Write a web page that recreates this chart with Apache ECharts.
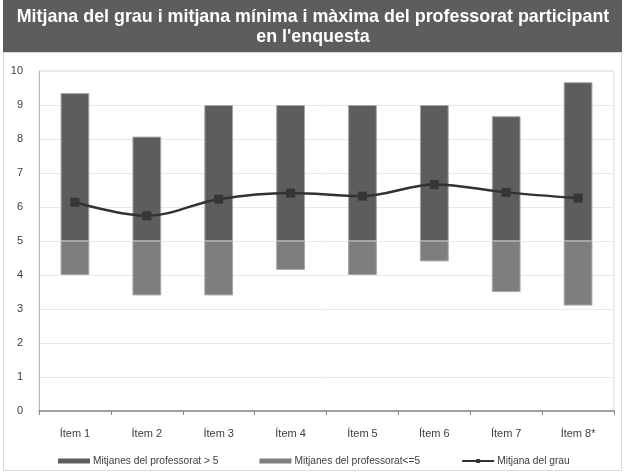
<!DOCTYPE html>
<html>
<head>
<meta charset="utf-8">
<script src="https://cdn.jsdelivr.net/npm/echarts@6/dist/echarts.min.js"></script>
<style>
  html, body { margin: 0; padding: 0; background: #ffffff; }
  #chart { width: 626px; height: 472px; }
</style>
</head>
<body>
<div id="chart"></div>
<script>
// Items surveyed
const categories = ['Ítem 1', 'Ítem 2', 'Ítem 3', 'Ítem 4', 'Ítem 5', 'Ítem 6', 'Ítem 7', 'Ítem 8*'];
// Lowest average mark of the teaching staff per item
const minValues = [4.0, 3.4, 3.4, 4.15, 4.0, 4.4, 3.5, 3.1];
// Highest average mark of the teaching staff per item
const maxValues = [9.35, 8.07, 9.0, 9.0, 9.0, 9.0, 8.67, 9.67];
// Degree average per item
const meanValues = [6.14, 5.74, 6.23, 6.41, 6.32, 6.66, 6.43, 6.26];
// Split point between the two bar segments
const threshold = 5;

const seriesNames = ['Mitjanes del professorat > 5', 'Mitjanes del professorat<=5', 'Mitjana del grau'];
const titleLines = ['Mitjana del grau i mitjana mínima i màxima del professorat participant', 'en l\'enquesta'];

const baseData = minValues.map(v => v);
const lowData = minValues.map(v => +(threshold - v).toFixed(3));
const highData = maxValues.map(v => +(v - threshold).toFixed(3));

const chart = echarts.init(document.getElementById('chart'), null, { renderer: 'canvas' });

const font = 'Arial, "Liberation Sans", sans-serif';

function titleText(text, y) {
  return {
    type: 'text', z: 1,
    x: 313, y: y,
    scaleX: 0.94,
    style: {
      x: 0, y: 0,
      text: text,
      fill: '#ffffff',
      font: 'bold 19px ' + font,
      align: 'center',
      verticalAlign: 'middle'
    }
  };
}

chart.setOption({
  animation: false,
  backgroundColor: '#ffffff',
  graphic: [
    {
      type: 'rect', z: -10,
      shape: { x: 3.5, y: 52.5, width: 618, height: 418 },
      style: { fill: '#ffffff', stroke: '#d9d9d9', lineWidth: 1 }
    },
    {
      type: 'rect', z: 0,
      shape: { x: 3, y: 0, width: 619, height: 52 },
      style: { fill: '#5e5c5d' }
    },
    titleText(titleLines[0], 16.5),
    titleText(titleLines[1], 36.5)
  ],
  grid: {
    left: 39, right: 12, top: 71, bottom: 61,
    show: true, borderColor: '#d9d9d9', borderWidth: 1
  },
  legend: {
    top: 456,
    left: 58,
    padding: 0,
    itemGap: 41,
    itemWidth: 32,
    itemHeight: 5,
    data: [
      { name: seriesNames[0], icon: 'rect', itemStyle: { borderWidth: 0 } },
      { name: seriesNames[1], icon: 'rect', itemStyle: { borderWidth: 0 } },
      { name: seriesNames[2] }
    ],
    textStyle: { fontFamily: font, fontSize: 10.2, color: '#404040', padding: [0, 0, 0, -2] }
  },
  xAxis: {
    type: 'category',
    data: categories,
    axisLine: { lineStyle: { color: '#868686', width: 1.5 } },
    axisTick: { show: true, length: 4, lineStyle: { color: '#868686' } },
    axisLabel: { fontFamily: font, fontSize: 11, color: '#404040', margin: 17 }
  },
  yAxis: {
    type: 'value',
    min: 0, max: 10, interval: 1,
    axisLine: { show: true, lineStyle: { color: '#bfbfbf' } },
    axisTick: { show: false },
    splitLine: { lineStyle: { color: '#e9e9e9' } },
    axisLabel: { fontFamily: font, fontSize: 11, color: '#404040', margin: 16 }
  },
  series: [
    {
      name: 'base', type: 'bar', stack: 'range', data: baseData,
      barWidth: '40%', silent: true,
      itemStyle: { color: 'transparent' }
    },
    {
      name: seriesNames[1], type: 'bar', stack: 'range', data: lowData,
      barWidth: '40%',
      itemStyle: { color: '#7f7e7f', borderColor: '#a6a6a6', borderWidth: 1 }
    },
    {
      name: seriesNames[0], type: 'bar', stack: 'range', data: highData,
      barWidth: '40%',
      itemStyle: { color: '#5e5c5d', borderColor: '#a6a6a6', borderWidth: 1 }
    },
    {
      name: seriesNames[2], type: 'line', data: meanValues,
      smooth: 0.35,
      symbol: 'rect', symbolSize: 9,
      lineStyle: { color: '#333132', width: 2.5 },
      itemStyle: { color: '#373536' },
      z: 5
    }
  ]
});
</script>
</body>
</html>
